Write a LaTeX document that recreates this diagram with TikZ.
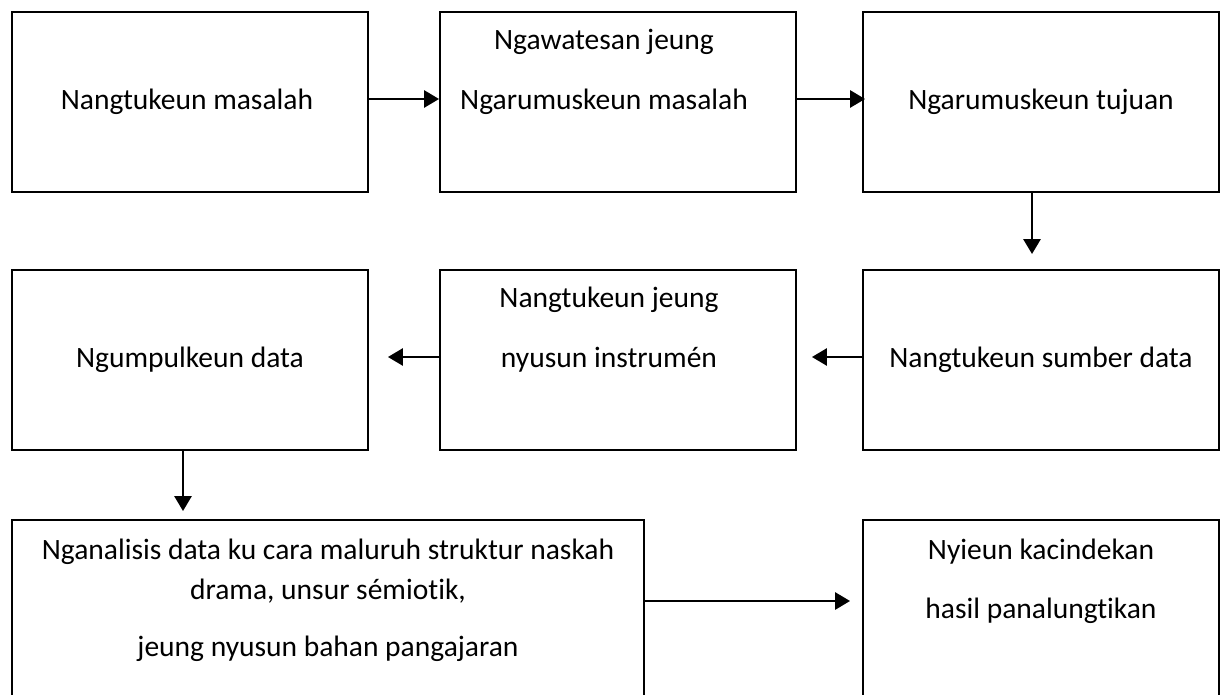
\documentclass[tikz,border=0pt]{standalone}
\usepackage{fontspec}
\setmainfont{Carlito}[Ligatures=NoCommon]
\usetikzlibrary{arrows.meta}

\tikzset{
	kotak/.style={draw, line width=1.1pt, minimum width=7.12cm, minimum height=3.6cm, inner sep=0pt},
	kotakpanjang/.style={kotak, minimum width=12.64cm, minimum height=4cm},
	teks/.style={font=\fontsize{16.8}{20}\selectfont, inner sep=0pt},
	panah/.style={-{Triangle[length=0.3cm, width=0.34cm]}, line width=1.6pt},
}

\begin{document}
\begin{tikzpicture}[x=0.02cm, y=-0.02cm]
			%%%%% WATES %%%%%
			\useasboundingbox (0, 0) rectangle (1220, 695);
			\clip (0, 0) rectangle (1220, 695);
			
			%%%%% KOTAK %%%%%
			\node[kotak] (b1) at (190, 102) {};
			\node[kotak] (b2) at (618, 102) {};
			\node[kotak] (b3) at (1041, 102) {};
			
			\node[kotak] (b4) at (190, 360) {};
			\node[kotak] (b5) at (618, 360) {};
			\node[kotak] (b6) at (1041, 360) {};
			
			\node[kotakpanjang] (b7) at (328, 620) {};
			\node[kotak, minimum height=4cm] (b8) at (1041, 620) {};
			
			%%%%% TEKS %%%%%
			\node[teks] (t1) at (187, 102) {Nangtukeun masalah};
			\node[teks] (t2a) at (604, 42) {Ngawatesan jeung};
			\node[teks] (t2b) at (604, 102) {Ngarumuskeun masalah};
			\node[teks] (t3) at (1041, 102) {Ngarumuskeun tujuan};
			
			\node[teks] (t4) at (190, 360) {Ngumpulkeun data};
			\node[teks] (t5a) at (609, 300) {Nangtukeun jeung};
			\node[teks] (t5b) at (609, 360) {nyusun instrumén};
			\node[teks] (t6) at (1041, 360) {Nangtukeun sumber data};
			
			\node[teks] (t7a) at (328, 552) {Nganalisis data ku cara maluruh struktur naskah};
			\node[teks] (t7b) at (328, 591) {drama, unsur sémiotik,};
			\node[teks] (t7c) at (328, 649) {jeung nyusun bahan pangajaran};
			\node[teks] (t8a) at (1041, 552) {Nyieun kacindekan};
			\node[teks] (t8b) at (1041, 611) {hasil panalungtikan};
			
			%%%%% PANAH %%%%%
			\draw[panah] ([yshift=0.06cm]b1.east) -- ([yshift=0.06cm]b2.west);
			\draw[panah] ([yshift=0.06cm]b2.east) -- ([yshift=0.06cm, xshift=0.06cm]b3.west);
			\draw[panah, shorten >=0.3cm] ([xshift=-0.18cm]b3.south) -- ([xshift=-0.18cm]b6.north);
			\draw[panah, shorten >=0.3cm] ([yshift=0.06cm]b6.west) -- ([yshift=0.06cm]b5.east);
			\draw[panah, shorten >=0.38cm] ([yshift=0.06cm]b5.west) -- ([yshift=0.06cm]b4.east);
			\draw[panah, shorten >=0.16cm] ([xshift=-0.14cm]b4.south) -- ([xshift=-0.14cm]b4.south |- b7.north);
			\draw[panah, shorten >=0.24cm] ([yshift=0.38cm]b7.east) -- ([yshift=0.38cm]b8.west);
		\end{tikzpicture}
\end{document}
